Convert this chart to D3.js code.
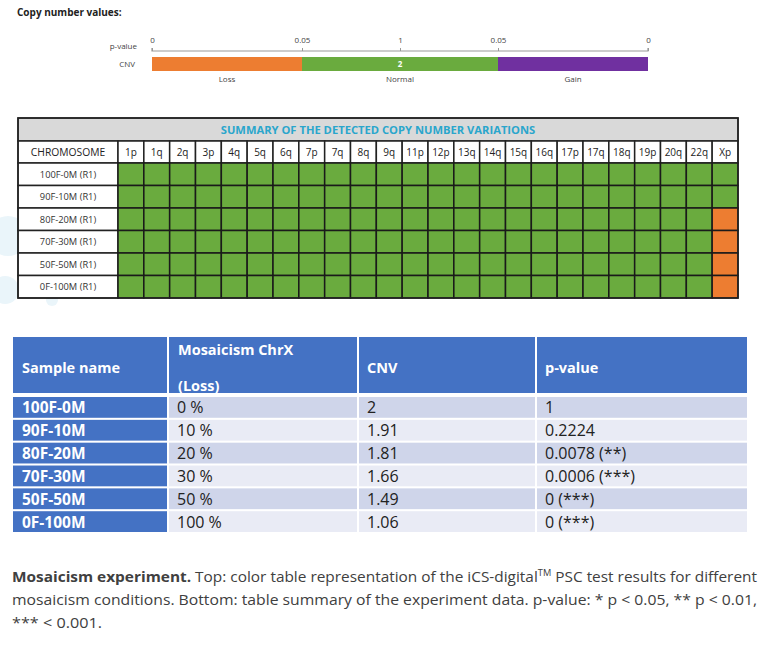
<!DOCTYPE html>
<html>
<head>
<meta charset="utf-8">
<script src="https://cdn.jsdelivr.net/npm/d3@7"></script>
<style>
  html, body { margin: 0; padding: 0; background: #fff; }
  svg { display: block; }
</style>
</head>
<body>
<svg id="chart" width="768" height="646"></svg>
<script>
// ---------------- DATA ----------------
const legendTickValues = [0, 0.05, 1, 1.95, 2];          // position along the p-value legend axis
const legendTickLabels = ["0", "0.05", "1", "0.05", "0"];
const legendSegments = ["Loss", "Normal", "Gain"];
const legendSegmentStart = [0, 0.05, 1.95];
const legendSegmentEnd = [0.05, 1.95, 2];

const arms = ["1p","1q","2q","3p","4q","5q","6q","7p","7q","8q","9q","11p","12p","13q","14q","15q","16q","17p","17q","18q","19p","20q","22q","Xp"];
const gridSamples = ["100F-0M (R1)","90F-10M (R1)","80F-20M (R1)","70F-30M (R1)","50F-50M (R1)","0F-100M (R1)"];
// CNV call for each sample (rows) and each arm (columns): N = normal, L = loss, G = gain
const callsRow1 = ["N","N","N","N","N","N","N","N","N","N","N","N","N","N","N","N","N","N","N","N","N","N","N","N"];
const callsRow2 = ["N","N","N","N","N","N","N","N","N","N","N","N","N","N","N","N","N","N","N","N","N","N","N","N"];
const callsRow3 = ["N","N","N","N","N","N","N","N","N","N","N","N","N","N","N","N","N","N","N","N","N","N","N","L"];
const callsRow4 = ["N","N","N","N","N","N","N","N","N","N","N","N","N","N","N","N","N","N","N","N","N","N","N","L"];
const callsRow5 = ["N","N","N","N","N","N","N","N","N","N","N","N","N","N","N","N","N","N","N","N","N","N","N","L"];
const callsRow6 = ["N","N","N","N","N","N","N","N","N","N","N","N","N","N","N","N","N","N","N","N","N","N","N","L"];
const gridCalls = [callsRow1, callsRow2, callsRow3, callsRow4, callsRow5, callsRow6];

const sampleNames = ["100F-0M","90F-10M","80F-20M","70F-30M","50F-50M","0F-100M"];
const mosaicism = ["0 %","10 %","20 %","30 %","50 %","100 %"];
const cnvValues = ["2","1.91","1.81","1.66","1.49","1.06"];
const pValues = ["1","0.2224","0.0078 (**)","0.0006 (***)","0 (***)","0 (***)"];

// ---------------- STYLE ----------------
const COL = { loss: "#ED7D31", normal: "#6AAB3E", gain: "#7030A0", blue: "#4472C4", alt1: "#CFD5EA", alt2: "#E9EBF5" };
const callColor = { N: COL.normal, L: COL.loss, G: COL.gain };
const segColor = [COL.loss, COL.normal, COL.gain];
const FONT = "'Open Sans', 'Noto Sans', sans-serif";

const svg = d3.select("#chart");

// faint watermark blobs
const wm = svg.append("g").attr("fill", "#EAF5FA");
[[8, 236, 20], [30, 262, 9], [5, 290, 14], [52, 300, 6]].forEach(c => {
  wm.append("circle").attr("cx", c[0]).attr("cy", c[1]).attr("r", c[2]);
});

// ---------------- TITLE + LEGEND ----------------
svg.append("text").attr("x", 17).attr("y", 16)
  .attr("font-family", FONT).attr("font-size", 10).attr("font-weight", "bold").attr("fill", "#222")
  .text("Copy number values:");

const lx = d3.scaleLinear().domain(legendTickValues).range([152, 302, 400, 498, 648]);

const leg = svg.append("g").attr("font-family", FONT).attr("fill", "#444");
leg.append("text").attr("x", 137).attr("y", 49).attr("text-anchor", "end").attr("font-size", 8).attr("fill", "#444").text("p-value");
leg.append("text").attr("x", 135).attr("y", 67).attr("text-anchor", "end").attr("font-size", 8).attr("fill", "#444").text("CNV");

const axisG = svg.append("g").attr("transform", "translate(0,51)");
axisG.call(d3.axisTop(lx).tickValues(legendTickValues).tickSize(3).tickFormat((d, i) => legendTickLabels[i]));
axisG.select(".domain").attr("stroke", "#999").attr("stroke-width", 1.2).attr("d", `M${lx(0)},-3V0H${lx(2)}V-3`);
axisG.selectAll(".tick line").attr("stroke", "#999").attr("y2", -3);
axisG.selectAll(".tick text").attr("font-family", FONT).attr("font-size", 8).attr("fill", "#444").attr("dy", "-2");

svg.append("g").selectAll("rect").data(legendSegments).join("rect")
  .attr("x", (d, i) => lx(legendSegmentStart[i]))
  .attr("width", (d, i) => lx(legendSegmentEnd[i]) - lx(legendSegmentStart[i]))
  .attr("y", 57).attr("height", 14)
  .attr("fill", (d, i) => segColor[i]);

svg.append("text").attr("x", lx(1)).attr("y", 67).attr("text-anchor", "middle")
  .attr("font-family", FONT).attr("font-size", 8).attr("font-weight", "bold").attr("fill", "#fff").text("2");

svg.append("g").selectAll("text").data(legendSegments).join("text")
  .attr("x", (d, i) => (lx(legendSegmentStart[i]) + lx(legendSegmentEnd[i])) / 2)
  .attr("y", 82).attr("text-anchor", "middle")
  .attr("font-family", FONT).attr("font-size", 8).attr("fill", "#444")
  .text(d => d);

// ---------------- CNV GRID ----------------
const gLeft = 18, gRight = 738, gTop = 118, gTitleH = 23, gHeadH = 22, gBottom = 298, labelW = 100;
const gx = d3.scaleBand().domain(arms).range([gLeft + labelW, gRight]);
const gy = d3.scaleBand().domain(gridSamples).range([gTop + gTitleH + gHeadH, gBottom]);
const grid = svg.append("g");

grid.append("rect").attr("x", gLeft).attr("y", gTop).attr("width", gRight - gLeft).attr("height", gTitleH)
  .attr("fill", "#D9D9D9").attr("stroke", "#222").attr("stroke-width", 1.5);
grid.append("text").attr("x", (gLeft + gRight) / 2).attr("y", gTop + 16).attr("text-anchor", "middle")
  .attr("font-family", FONT).attr("font-size", 11.2).attr("font-weight", "bold").attr("fill", "#2AA6CC")
  .text("SUMMARY OF THE DETECTED COPY NUMBER VARIATIONS");

// header row
const hy = gTop + gTitleH;
grid.append("rect").attr("x", gLeft).attr("y", hy).attr("width", labelW).attr("height", gHeadH)
  .attr("fill", "#fff").attr("stroke", "#222").attr("stroke-width", 1.5);
grid.append("text").attr("x", gLeft + labelW / 2).attr("y", hy + 15).attr("text-anchor", "middle")
  .attr("font-family", FONT).attr("font-size", 10.3).attr("fill", "#222").text("CHROMOSOME");
grid.append("g").selectAll("rect").data(arms).join("rect")
  .attr("x", d => gx(d)).attr("y", hy).attr("width", gx.bandwidth()).attr("height", gHeadH)
  .attr("fill", "#fff").attr("stroke", "#222").attr("stroke-width", 1.5);
grid.append("g").selectAll("text").data(arms).join("text")
  .attr("x", d => gx(d) + gx.bandwidth() / 2).attr("y", hy + 15).attr("text-anchor", "middle")
  .attr("font-family", FONT).attr("font-size", 10).attr("fill", "#222").text(d => d);

// sample label cells
grid.append("g").selectAll("rect").data(gridSamples).join("rect")
  .attr("x", gLeft).attr("y", d => gy(d)).attr("width", labelW).attr("height", gy.bandwidth())
  .attr("fill", "#fff").attr("stroke", "#222").attr("stroke-width", 1.5);
grid.append("g").selectAll("text").data(gridSamples).join("text")
  .attr("x", gLeft + labelW / 2).attr("y", d => gy(d) + gy.bandwidth() / 2 + 3.5).attr("text-anchor", "middle")
  .attr("font-family", FONT).attr("font-size", 9.3).attr("fill", "#333").text(d => d);

// call cells
const cells = [];
gridSamples.forEach((s, r) => arms.forEach((a, c) => cells.push({ s, a, v: gridCalls[r][c] })));
grid.append("g").selectAll("rect").data(cells).join("rect")
  .attr("x", d => gx(d.a)).attr("y", d => gy(d.s)).attr("width", gx.bandwidth()).attr("height", gy.bandwidth())
  .attr("fill", d => callColor[d.v]).attr("stroke", "#1a1a1a").attr("stroke-width", 1.5);

grid.append("rect").attr("x", gLeft).attr("y", gTop).attr("width", gRight - gLeft).attr("height", gBottom - gTop)
  .attr("fill", "none").attr("stroke", "#222").attr("stroke-width", 1.5);

// ---------------- SUMMARY TABLE ----------------
const colEdges = [13, 168, 358, 536, 747];
const tHeadTop = 337, tHeadBottom = 393;
const ty = d3.scaleBand().domain(sampleNames).range([397, 532]).paddingInner(0.09).paddingOuter(0);
const tbl = svg.append("g").attr("font-family", FONT);
const GAP = 1;

// header
for (let c = 0; c < 4; c++) {
  tbl.append("rect").attr("x", colEdges[c] + (c ? GAP : 0)).attr("y", tHeadTop)
    .attr("width", colEdges[c + 1] - colEdges[c] - (c ? GAP : 0) - (c < 3 ? GAP : 0))
    .attr("height", tHeadBottom - tHeadTop).attr("fill", COL.blue);
}
const hTxt = tbl.append("g").attr("fill", "#fff").attr("font-weight", "bold").attr("font-size", 14.5);
hTxt.append("text").attr("x", colEdges[0] + 9).attr("y", 373).text("Sample name");
hTxt.append("text").attr("x", colEdges[1] + 10).attr("y", 355).text("Mosaicism ChrX");
hTxt.append("text").attr("x", colEdges[1] + 10).attr("y", 391).text("(Loss)");
hTxt.append("text").attr("x", colEdges[2] + 9).attr("y", 373).text("CNV");
hTxt.append("text").attr("x", colEdges[3] + 9).attr("y", 373).text("p-value");

const tableCols = [sampleNames, mosaicism, cnvValues, pValues];
sampleNames.forEach((s, r) => {
  for (let c = 0; c < 4; c++) {
    const fill = c === 0 ? COL.blue : (r % 2 === 0 ? COL.alt1 : COL.alt2);
    tbl.append("rect").attr("x", colEdges[c] + (c ? GAP : 0)).attr("y", ty(s))
      .attr("width", colEdges[c + 1] - colEdges[c] - (c ? GAP : 0) - (c < 3 ? GAP : 0))
      .attr("height", ty.bandwidth()).attr("fill", fill);
    tbl.append("text").attr("x", colEdges[c] + 9).attr("y", ty(s) + ty.bandwidth() / 2 + 6)
      .attr("font-size", c === 0 ? 15.5 : 16)
      .attr("font-weight", c === 0 ? "bold" : "normal")
      .attr("fill", c === 0 ? "#fff" : "#222")
      .text(tableCols[c][r]);
  }
});

// ---------------- CAPTION ----------------
const cap = svg.append("g").attr("font-family", FONT).attr("font-size", 15).attr("fill", "#404040");
const l1 = cap.append("text").attr("x", 12).attr("y", 582).attr("textLength", 745).attr("lengthAdjust", "spacingAndGlyphs");
l1.append("tspan").attr("font-weight", "bold").text("Mosaicism experiment.");
l1.append("tspan").text(" Top: color table representation of the iCS-digital");
l1.append("tspan").attr("font-size", 9).attr("dy", -6).text("TM");
l1.append("tspan").attr("dy", 6).text(" PSC test results for different");
cap.append("text").attr("x", 12).attr("y", 605).attr("textLength", 745).attr("lengthAdjust", "spacingAndGlyphs")
  .text("mosaicism conditions. Bottom: table summary of the experiment data. p-value: * p < 0.05, ** p < 0.01,");
cap.append("text").attr("x", 12).attr("y", 628).attr("textLength", 90).attr("lengthAdjust", "spacingAndGlyphs")
  .text("*** < 0.001.");
</script>
</body>
</html>
